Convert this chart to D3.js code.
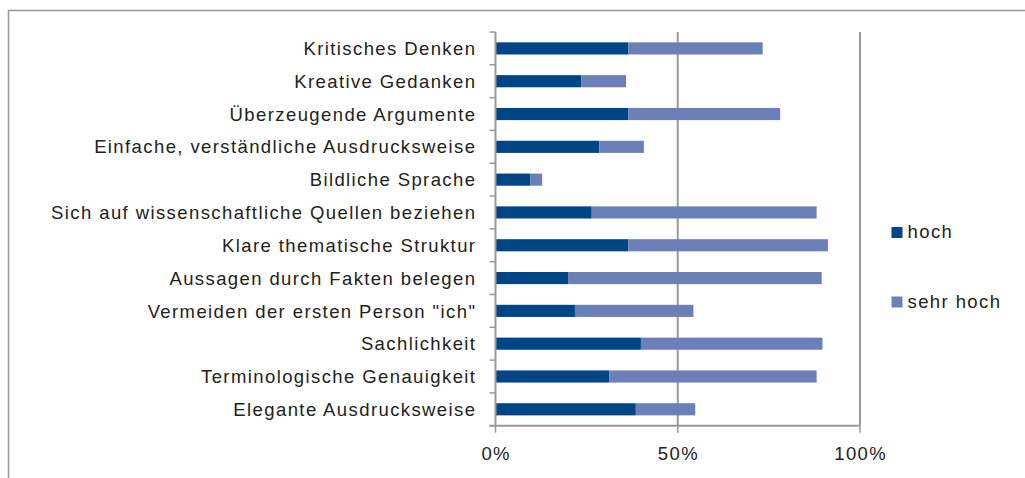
<!DOCTYPE html>
<html>
<head>
<meta charset="utf-8">
<script src="https://cdn.jsdelivr.net/npm/d3@7"></script>
<style>
  body { margin: 0; background: #fff; }
  text { font-family: "Liberation Sans", Arial, sans-serif; fill: #222; font-size: 18.5px; letter-spacing: 1.4px; }
</style>
</head>
<body>
<div id="chart"></div>
<script>
// Categories, top to bottom
const categories = [
    'Kritisches Denken',
    'Kreative Gedanken',
    'Überzeugende Argumente',
    'Einfache, verständliche Ausdrucksweise',
    'Bildliche Sprache',
    'Sich auf wissenschaftliche Quellen beziehen',
    'Klare thematische Struktur',
    'Aussagen durch Fakten belegen',
    'Vermeiden der ersten Person "ich"',
    'Sachlichkeit',
    'Terminologische Genauigkeit',
    'Elegante Ausdrucksweise'
];

// Share (%) per series
const hoch = [36.4, 23.5, 36.4, 28.5, 9.5, 26.4, 36.4, 19.9, 21.8, 39.9, 31.2, 38.5];
const sehrHoch = [36.9, 12.3, 41.7, 12.2, 3.3, 61.7, 54.8, 69.6, 32.5, 49.8, 56.9, 16.3];

const seriesNames = ['hoch', 'sehr hoch'];
const xTicks = [0, 50, 100];

const colors = {hoch: '#004586', 'sehr hoch': '#6b80b6'};

const width = 1025, height = 478;
const plotLeft = 495.5, plotRight = 860, plotTop = 32, plotBottom = 425.7;

const svg = d3.select('#chart').append('svg')
    .attr('width', width)
    .attr('height', height);

// outer frame (left and top edges visible)
svg.append('rect')
    .attr('x', 8.5).attr('y', 10.5)
    .attr('width', 1100).attr('height', 600)
    .attr('fill', 'none')
    .attr('stroke', '#999')
    .attr('stroke-width', 1.5);

const x = d3.scaleLinear().domain([0, 100]).range([plotLeft, plotRight]);
const y = d3.scaleBand().domain(categories).range([plotTop, plotBottom]).paddingInner(0.63).paddingOuter(0.315);
const yTicks = d3.scaleBand().domain(categories).range([plotTop, plotBottom]);

const rows = categories.map((c, i) => ({cat: c, hoch: hoch[i], 'sehr hoch': sehrHoch[i]}));
const stacked = d3.stack().keys(seriesNames)(rows);

// vertical gridlines
svg.append('g')
    .selectAll('line')
    .data(xTicks.slice(1))
    .join('line')
    .attr('x1', d => x(d)).attr('x2', d => x(d))
    .attr('y1', plotTop).attr('y2', plotBottom)
    .attr('stroke', '#999')
    .attr('stroke-width', 2);

// bars
svg.append('g')
    .selectAll('g')
    .data(stacked)
    .join('g')
    .attr('fill', d => colors[d.key])
    .selectAll('rect')
    .data(d => d)
    .join('rect')
    .attr('x', d => x(d[0]))
    .attr('y', d => y(d.data.cat))
    .attr('width', d => x(d[1]) - x(d[0]))
    .attr('height', y.bandwidth());

// category axis
const yAxisG = svg.append('g');
yAxisG.append('line')
    .attr('x1', plotLeft).attr('x2', plotLeft)
    .attr('y1', plotTop).attr('y2', plotBottom)
    .attr('stroke', '#999').attr('stroke-width', 2);
yAxisG.selectAll('line.tick')
    .data(categories.concat(['end']))
    .join('line')
    .attr('class', 'tick')
    .attr('x1', plotLeft - 6).attr('x2', plotLeft)
    .attr('y1', (d, i) => i < categories.length ? yTicks(d) : plotBottom)
    .attr('y2', (d, i) => i < categories.length ? yTicks(d) : plotBottom)
    .attr('stroke', '#999').attr('stroke-width', 1.5);
yAxisG.selectAll('text')
    .data(categories)
    .join('text')
    .attr('x', 476.4)
    .attr('y', d => yTicks(d) + yTicks.bandwidth() / 2)
    .attr('dy', '0.36em')
    .attr('text-anchor', 'end')
    .text(d => d);

// value axis
const xAxisG = svg.append('g');
xAxisG.append('line')
    .attr('x1', plotLeft - 6).attr('x2', plotRight)
    .attr('y1', plotBottom).attr('y2', plotBottom)
    .attr('stroke', '#999').attr('stroke-width', 2);
xAxisG.selectAll('line.tick')
    .data(xTicks)
    .join('line')
    .attr('class', 'tick')
    .attr('x1', d => x(d)).attr('x2', d => x(d))
    .attr('y1', plotBottom).attr('y2', plotBottom + 7)
    .attr('stroke', '#999').attr('stroke-width', 1.5);
xAxisG.selectAll('text')
    .data(xTicks)
    .join('text')
    .attr('x', d => x(d) + 0.7)
    .attr('y', 460)
    .attr('text-anchor', 'middle')
    .text(d => d + '%');

// legend
const legend = svg.append('g')
    .selectAll('g')
    .data(seriesNames)
    .join('g')
    .attr('transform', (d, i) => `translate(891.5, ${227 + i * 69.5})`);
legend.append('rect')
    .attr('width', 11).attr('height', 11)
    .attr('fill', d => colors[d]);
legend.append('text')
    .attr('x', 16).attr('y', 11)
    .text(d => d);
</script>
</body>
</html>
